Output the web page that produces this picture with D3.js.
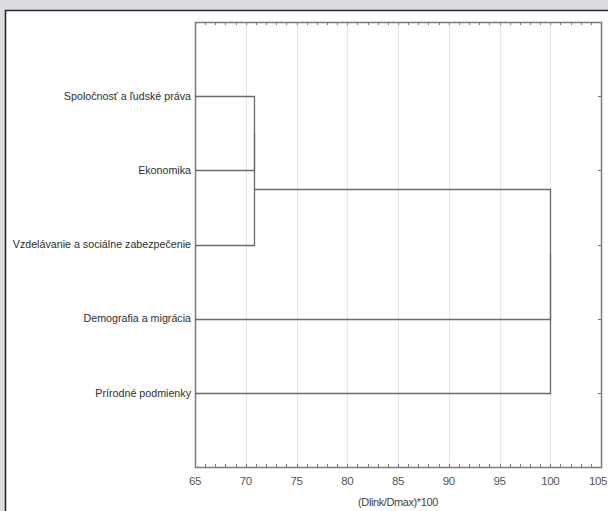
<!DOCTYPE html>
<html lang="sk">
<head>
<meta charset="UTF-8">
<title>Dendrogram</title>
<script src="https://d3js.org/d3.v7.min.js"></script>
<style>
  body { margin: 0; background: #dcdde0; }
  svg { display: block; }
</style>
</head>
<body>
<script>
// data
const leaves = ["Spoločnosť a ľudské práva", "Ekonomika", "Vzdelávanie a sociálne zabezpečenie",
                "Demografia a migrácia", "Prírodné podmienky"];
// merges: [left, right, linkage distance]; new cluster ids follow the leaves
const merges = [
  [0, 1, 70.8],
  [5, 2, 70.8],
  [6, 3, 100],
  [7, 4, 100]
];
const xTicks = [65, 70, 75, 80, 85, 90, 95, 100, 105];
const xTitle = "(Dlink/Dmax)*100";

const width = 608, height = 511;
const margin = { left: 195, right: 7, top: 22, bottom: 44 };
const font = "Liberation Sans, Arial, sans-serif";

const svg = d3.select("body").append("svg").attr("width", width).attr("height", height);

// white panel with dark top/left border
svg.append("rect").attr("x", 5).attr("y", 11).attr("width", width - 5).attr("height", height - 11).attr("fill", "#fff");
svg.append("path").attr("d", `M5.5,${height}V10.5H${width}`).attr("fill", "none").attr("stroke", "#2b2b2b").attr("stroke-width", 1.6);

const x = d3.scaleLinear().domain([65, 105]).range([margin.left, width - margin.right]);
const y = d3.scaleLinear().domain([0, leaves.length + 1]).range([margin.top, height - margin.bottom]);
const px = v => Math.round(x(v)) + 0.5;
const py = v => Math.round(y(v)) + 0.5;

// grid
svg.append("g").selectAll("line").data(xTicks.slice(1, -1)).join("line")
  .attr("x1", d => px(d)).attr("x2", d => px(d))
  .attr("y1", y(0)).attr("y2", y(leaves.length + 1))
  .attr("stroke", "#e6e6e6").attr("stroke-width", 1);

// minor ticks top & bottom
const minor = d3.range(65, 106, 1);
svg.append("g").selectAll("line").data(minor).join("line")
  .attr("x1", d => px(d)).attr("x2", d => px(d))
  .attr("y1", y(0)).attr("y2", y(0) + 3)
  .attr("stroke", "#777");
svg.append("g").selectAll("line").data(minor).join("line")
  .attr("x1", d => px(d)).attr("x2", d => px(d))
  .attr("y1", y(leaves.length + 1)).attr("y2", y(leaves.length + 1) - 3)
  .attr("stroke", "#777");

// right ticks at leaf positions
svg.append("g").selectAll("line").data(leaves).join("line")
  .attr("x1", x(105)).attr("x2", x(105) - 3)
  .attr("y1", (d, i) => py(i + 1)).attr("y2", (d, i) => py(i + 1))
  .attr("stroke", "#777");

// frame
svg.append("rect")
  .attr("x", px(65)).attr("y", py(0))
  .attr("width", px(105) - px(65)).attr("height", py(leaves.length + 1) - py(0))
  .attr("fill", "none").attr("stroke", "#7a7a7a").attr("stroke-width", 1.5);

// dendrogram
const nodes = leaves.map((name, i) => ({ pos: i + 1, h: 65 }));
const g = svg.append("g").attr("fill", "none").attr("stroke", "#6a6a6a").attr("stroke-width", 1.3);
merges.forEach(([a, b, h]) => {
  const A = nodes[a], B = nodes[b];
  g.append("path").attr("d",
    `M${px(A.h)},${py(A.pos)}H${px(h)}V${py(B.pos)}H${px(B.h)}`);
  nodes.push({ pos: (A.pos + B.pos) / 2, h: h });
});

// leaf labels
svg.append("g").selectAll("text").data(leaves).join("text")
  .attr("x", x(65) - 4).attr("y", (d, i) => y(i + 1)).attr("dy", "0.35em")
  .attr("text-anchor", "end")
  .attr("font-family", font).attr("font-size", 10.7)
  .attr("fill", "#2e2e2e").text(d => d);

// x tick labels (last one kept inside the window)
svg.append("g").selectAll("text").data(xTicks).join("text")
  .attr("x", d => Math.min(x(d), width - 10)).attr("y", y(leaves.length + 1) + 18)
  .attr("text-anchor", "middle")
  .attr("font-family", font).attr("font-size", 11.5)
  .attr("letter-spacing", -0.4)
  .attr("fill", "#555").text(d => d);

svg.append("text")
  .attr("x", (x(65) + x(105)) / 2).attr("y", 506)
  .attr("text-anchor", "middle")
  .attr("font-family", font).attr("font-size", 11)
  .attr("letter-spacing", -0.4)
  .attr("fill", "#444").text(xTitle);
</script>
</body>
</html>
